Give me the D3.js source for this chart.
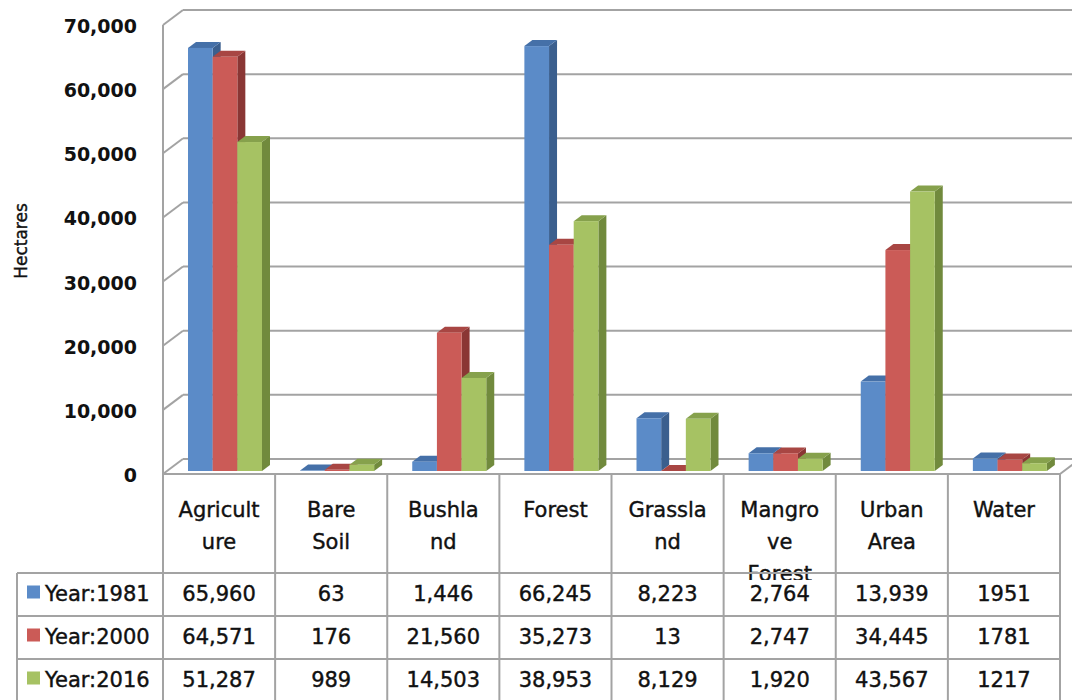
<!DOCTYPE html>
<html>
<head>
<meta charset="utf-8">
<script src="https://cdn.jsdelivr.net/npm/d3@7"></script>
<style>
  body { margin: 0; background: #ffffff; }
  text { font-family: "DejaVu Sans", sans-serif; fill: #111; }
  text.heavy { stroke: #111; stroke-width: 0.4px; }
</style>
</head>
<body>
<svg id="chart" width="1072" height="700"></svg>
<script>
// Land cover classes (columns of the data table)
const categories = ["Agriculture", "Bare Soil", "Bushland", "Forest", "Grassland", "Mangrove Forest", "Urban Area", "Water"];
// Header text as it wraps inside the narrow table cells
const headerLines = [["Agricult", "ure"], ["Bare", "Soil"], ["Bushla", "nd"], ["Forest"], ["Grassla", "nd"], ["Mangro", "ve", "Forest"], ["Urban", "Area"], ["Water"]];
const seriesNames = ["Year:1981", "Year:2000", "Year:2016"];
// Table entries in hectares, written as they appear in the table
const labels1981 = ["65,960", "63", "1,446", "66,245", "8,223", "2,764", "13,939", "1951"];
const labels2000 = ["64,571", "176", "21,560", "35,273", "13", "2,747", "34,445", "1781"];
const labels2016 = ["51,287", "989", "14,503", "38,953", "8,129", "1,920", "43,567", "1217"];
const yTicks = [0, 10000, 20000, 30000, 40000, 50000, 60000, 70000];

// Excel-style palette: front face, top face, side face
const palette = [
  { front: "#5B8BC8", top: "#4570A8", side: "#3B5F8E" },
  { front: "#CB5B57", top: "#A84643", side: "#8A3634" },
  { front: "#A6C263", top: "#86A14C", side: "#718A3D" }
];

const labelRows = [labels1981, labels2000, labels2016];
const toNumber = s => +s.replace(/,/g, "");
const series = seriesNames.map((name, i) => ({
  name,
  labels: labelRows[i],
  values: labelRows[i].map(toNumber)
}));

const svg = d3.select("#chart");

// Plot geometry: back wall + a shallow floor seen in oblique projection
const wallDX = 20, wallDY = 15;      // offset of front edge relative to back wall
const barDX = 8, barDY = 6;          // depth of each column
const barShift = 12;                 // columns sit this far in front of the back wall (vertical)
const left = 163, right = 1060;

const y = d3.scaleLinear().domain([0, 70000]).range([459, 10]);
const x = d3.scaleBand().domain(categories).range([left, right]);
const xs = d3.scaleBand().domain(seriesNames).range([25, 99]);

const gridColor = "#a3a3a3";
const grid = svg.append("g").attr("stroke", gridColor).attr("stroke-width", 2).attr("fill", "none");

// Back-wall gridlines and their diagonals on the side wall
yTicks.forEach(t => {
  const yb = y(t);
  grid.append("line").attr("x1", left + wallDX).attr("x2", right + wallDX).attr("y1", yb).attr("y2", yb);
  grid.append("line").attr("x1", left).attr("y1", yb + wallDY).attr("x2", left + wallDX).attr("y2", yb);
});
// Front vertical edge of the side wall
grid.append("line").attr("x1", left).attr("x2", left).attr("y1", y(70000) + wallDY).attr("y2", y(0) + wallDY);
// Floor front edge and right edge
grid.append("line").attr("x1", left).attr("x2", right).attr("y1", y(0) + wallDY).attr("y2", y(0) + wallDY);
grid.append("line").attr("x1", right).attr("y1", y(0) + wallDY).attr("x2", right + wallDX).attr("y2", y(0));

// Y axis tick labels
svg.append("g").selectAll("text").data(yTicks).join("text")
  .attr("x", 137).attr("y", d => y(d) + 16)
  .attr("text-anchor", "end").attr("dominant-baseline", "central")
  .attr("font-size", 19).attr("font-weight", "bold")
  .text(d => d3.format(",")(d));

// Axis title
svg.append("text").attr("class", "heavy")
  .attr("transform", "translate(21,241) rotate(-90)")
  .attr("text-anchor", "middle").attr("dominant-baseline", "central")
  .attr("font-size", 17)
  .text("Hectares");

// 3D columns, drawn left to right so neighbours overlap correctly
const bars = svg.append("g");
categories.forEach((cat, ci) => {
  series.forEach((s, si) => {
    const v = s.values[ci];
    const x0 = x(cat) + xs(s.name);
    const x1 = x0 + xs.bandwidth();
    const yt = y(v) + barShift;
    const yb = y(0) + barShift;
    const col = palette[si];
    const g = bars.append("g");
    g.append("path").attr("fill", col.side)
      .attr("d", `M${x1},${yt}L${x1 + barDX},${yt - barDY}L${x1 + barDX},${yb - barDY}L${x1},${yb}Z`);
    g.append("path").attr("fill", col.top)
      .attr("d", `M${x0},${yt}L${x0 + barDX},${yt - barDY}L${x1 + barDX},${yt - barDY}L${x1},${yt}Z`);
    g.append("rect").attr("fill", col.front)
      .attr("x", x0).attr("y", yt).attr("width", x1 - x0).attr("height", Math.max(0, yb - yt));
  });
});

// Data table below the plot
const tableTop = y(0) + wallDY;
const rowTops = [573, 616, 659, 702];
const legendLeft = 17;

// Header cells (category names), clipped just under the first row line
svg.append("clipPath").attr("id", "headerClip")
  .append("rect").attr("x", left).attr("y", tableTop).attr("width", right - left).attr("height", 106);
const header = svg.append("g").attr("clip-path", "url(#headerClip)");
categories.forEach((cat, ci) => {
  const cx = x(cat) + x.bandwidth() / 2;
  headerLines[ci].forEach((line, li) => {
    header.append("text").attr("class", "heavy")
      .attr("x", cx).attr("y", 510 + li * 32)
      .attr("text-anchor", "middle").attr("dominant-baseline", "central")
      .attr("font-size", 21)
      .text(line);
  });
});

// Value rows with legend keys
series.forEach((s, si) => {
  const cy = (rowTops[si] + rowTops[si + 1]) / 2 - 1;
  svg.append("rect").attr("x", 27).attr("y", cy - 8).attr("width", 13).attr("height", 13)
    .attr("fill", palette[si].front);
  svg.append("text").attr("class", "heavy").attr("x", 45).attr("y", cy)
    .attr("dominant-baseline", "central").attr("font-size", 21)
    .text(s.name);
  categories.forEach((cat, ci) => {
    svg.append("text").attr("class", "heavy")
      .attr("x", x(cat) + x.bandwidth() / 2).attr("y", cy)
      .attr("text-anchor", "middle").attr("dominant-baseline", "central")
      .attr("font-size", 21)
      .text(s.labels[ci]);
  });
});

// Table borders
const tbl = svg.append("g").attr("stroke", gridColor).attr("stroke-width", 2);
categories.concat([null]).forEach(cat => {
  const xx = cat === null ? right : x(cat);
  tbl.append("line").attr("x1", xx).attr("x2", xx).attr("y1", tableTop).attr("y2", 700);
});
tbl.append("line").attr("x1", legendLeft).attr("x2", legendLeft).attr("y1", rowTops[0]).attr("y2", 700);
rowTops.slice(0, 3).forEach(r => {
  tbl.append("line").attr("x1", legendLeft).attr("x2", right).attr("y1", r).attr("y2", r);
});
</script>
</body>
</html>
